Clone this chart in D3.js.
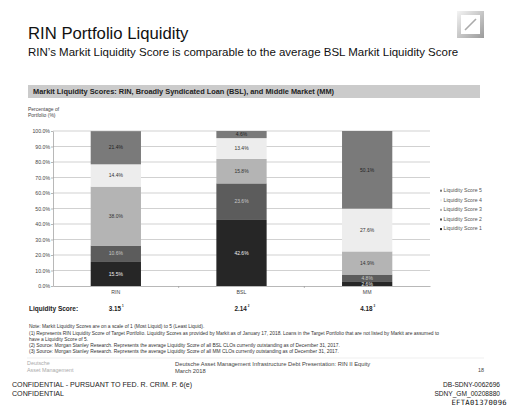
<!DOCTYPE html>
<html>
<head>
<meta charset="utf-8">
<script src="https://cdn.jsdelivr.net/npm/d3@7"></script>
<style>
  body { margin: 0; background: #fff; }
  svg { display: block; font-family: 'Liberation Sans', Arial, sans-serif; }
</style>
</head>
<body>
<div id="chart"></div>
<script>
const width = 512;
const height = 413;

// data
const categories = ['RIN', 'BSL', 'MM'];
const seriesNames = ['Liquidity Score 1', 'Liquidity Score 2', 'Liquidity Score 3', 'Liquidity Score 4', 'Liquidity Score 5'];
const score1 = [15.5, 42.6, 2.6];
const score2 = [10.6, 23.6, 4.8];
const score3 = [38.0, 15.8, 14.9];
const score4 = [14.4, 13.4, 27.6];
const score5 = [21.4, 4.6, 50.1];
const liquidityScores = ['3.15', '2.14', '4.18'];
const scoreNotes = ['1', '2', '3'];
const yTicks = [0, 10, 20, 30, 40, 50, 60, 70, 80, 90, 100];

const colors = ['#262626', '#5c5c5c', '#b4b4b4', '#ededed', '#7a7a7a'];
const labelColors = ['#f0f0f0', '#c8c8c8', '#333', '#333', '#222'];

const notes = [
  'Note: Markit Liquidity Scores are on a scale of 1 (Most Liquid) to 5 (Least Liquid).',
  '(1) Represents RIN Liquidity Score of Target Portfolio. Liquidity Scores as provided by Markit  as of January 17, 2018. Loans in the Target Portfolio that are not listed by Markit are assumed to',
  'have a Liquidity Score of 5.',
  '(2) Source: Morgan Stanley Research. Represents the average Liquidity Score of all BSL CLOs currently outstanding as of December 31, 2017.',
  '(3) Source: Morgan Stanley Research. Represents the average Liquidity Score of all MM CLOs currently outstanding as of December 31, 2017.',
];

const svg = d3
  .select('#chart')
  .append('svg')
  .attr('width', width)
  .attr('height', height);

// Titles
svg.append('text').text('RIN Portfolio Liquidity')
  .attr('x', 28).attr('y', 39).attr('font-size', 16.7).attr('fill', '#111');
svg.append('text').text('RIN\u2019s Markit Liquidity Score is comparable to the average BSL Markit Liquidity Score')
  .attr('x', 28).attr('y', 56).attr('font-size', 11.5).attr('fill', '#111');

// Logo
const grad = svg.append('defs').append('linearGradient')
  .attr('id', 'logo').attr('x1', 0).attr('y1', 0).attr('x2', 1).attr('y2', 1);
grad.append('stop').attr('offset', 0).attr('stop-color', '#f4f4f4');
grad.append('stop').attr('offset', 1).attr('stop-color', '#9a9a9a');
svg.append('rect').attr('x', 457).attr('y', 11).attr('width', 27).attr('height', 27)
  .attr('fill', 'url(#logo)');
svg.append('rect').attr('x', 461).attr('y', 15).attr('width', 19).attr('height', 19)
  .attr('fill', '#fff');
svg.append('line').attr('x1', 465).attr('y1', 30).attr('x2', 476).attr('y2', 19)
  .attr('stroke', '#aaa').attr('stroke-width', 1.6);

// Header bar
svg.append('rect').attr('x', 28).attr('y', 85).attr('width', 452).attr('height', 13)
  .attr('fill', '#cbcbcb');
svg.append('text').text('Markit Liquidity Scores:  RIN, Broadly Syndicated Loan (BSL), and Middle Market (MM)')
  .attr('x', 33).attr('y', 94.3).attr('font-size', 7.4).attr('font-weight', 'bold').attr('fill', '#222');

// Axis title
svg.append('text').attr('x', 28).attr('y', 111).attr('font-size', 5).attr('fill', '#444')
  .selectAll('tspan').data(['Percentage of', 'Portfolio (%)']).enter().append('tspan')
  .attr('x', 28).attr('dy', (d, i) => (i ? 6 : 0)).text((d) => d);

// Scales
const xScale = d3.scaleBand().domain(categories).range([53, 430])
  .paddingInner(0.6).paddingOuter(0.3);
const yScale = d3.scaleLinear().domain([0, 100]).range([286, 131]);

// Grid
svg.append('g').selectAll('line').data(yTicks.slice(1)).enter().append('line')
  .attr('x1', 53).attr('x2', 430)
  .attr('y1', (d) => yScale(d)).attr('y2', (d) => yScale(d))
  .attr('stroke', '#bdbdbd').attr('stroke-width', 0.7);

// Y axis
const yAxis = d3.axisLeft(yScale).tickValues(yTicks)
  .tickFormat((d) => d3.format('.1f')(d) + '%').tickSize(2).tickSizeOuter(0);
const yG = svg.append('g').attr('transform', 'translate(53,0)').call(yAxis);
yG.select('.domain').attr('stroke', '#999').attr('stroke-width', 0.7);
yG.selectAll('.tick line').attr('stroke', '#999').attr('stroke-width', 0.7);
yG.selectAll('text').attr('font-size', 5.2).attr('fill', '#444').attr('x', -3)
  .attr('font-family', 'Liberation Sans, Arial, sans-serif');

// X axis
const xAxis = d3.axisBottom(xScale).tickSize(0).tickSizeOuter(0);
const xG = svg.append('g').attr('transform', 'translate(0,286)').call(xAxis);
xG.select('.domain').attr('stroke', '#999').attr('stroke-width', 0.7);
xG.selectAll('text').attr('font-size', 5.2).attr('fill', '#444').attr('dy', '0.9em')
  .attr('font-family', 'Liberation Sans, Arial, sans-serif');
// small separators between categories
svg.append('g').selectAll('line').data(categories.slice(1)).enter().append('line')
  .attr('x1', (d) => xScale(d) - xScale.step() * xScale.paddingInner() / 2)
  .attr('x2', (d) => xScale(d) - xScale.step() * xScale.paddingInner() / 2)
  .attr('y1', 286).attr('y2', 288).attr('stroke', '#999').attr('stroke-width', 0.7);

// Stacked bars
const rows = categories.map((c, i) => ({
  cat: c, s0: score1[i], s1: score2[i], s2: score3[i], s3: score4[i], s4: score5[i],
}));
const stack = d3.stack().keys(['s0', 's1', 's2', 's3', 's4'])(rows);

const layers = svg.append('g').selectAll('g').data(stack).enter().append('g')
  .attr('fill', (d, i) => colors[i]);
layers.selectAll('rect').data((d) => d).enter().append('rect')
  .attr('x', (d) => xScale(d.data.cat))
  .attr('width', xScale.bandwidth())
  .attr('y', (d) => yScale(d[1]))
  .attr('height', (d) => yScale(d[0]) - yScale(d[1]));

// Segment labels
stack.forEach((layer, li) => {
  svg.append('g').selectAll('text').data(layer).enter().append('text')
    .attr('x', (d) => xScale(d.data.cat) + xScale.bandwidth() / 2)
    .attr('y', (d) => yScale((d[0] + d[1]) / 2) + 1.7)
    .attr('text-anchor', 'middle')
    .attr('font-size', 5)
    .attr('fill', labelColors[li])
    .text((d) => d3.format('.1f')(d[1] - d[0]) + '%');
});

// Legend
const legend = svg.append('g').attr('transform', 'translate(440,192)');
const legendItems = seriesNames.map((n, i) => ({ n, c: colors[i] })).reverse();
legendItems.forEach((d, i) => {
  legend.append('rect').attr('x', 0).attr('y', i * 9.6 - 2.3).attr('width', 2)
    .attr('height', 2).attr('fill', d.c);
  legend.append('text').attr('x', 3.5).attr('y', i * 9.6).attr('font-size', 5.2)
    .attr('fill', '#555').text(d.n);
});

// Liquidity score row
svg.append('text').text('Liquidity Score:').attr('x', 29).attr('y', 310.5)
  .attr('font-size', 6.5).attr('font-weight', 'bold').attr('fill', '#222');
categories.forEach((c, i) => {
  const t = svg.append('text').attr('x', xScale(c) + xScale.bandwidth() / 2 - 7).attr('y', 310.5)
    .attr('font-size', 6.3).attr('font-weight', 'bold').attr('fill', '#222');
  t.append('tspan').text(liquidityScores[i]);
  t.append('tspan').text(scoreNotes[i]).attr('font-size', 3).attr('dy', -3.5).attr('dx', 1);
});

// Notes
svg.append('g').selectAll('text').data(notes).enter().append('text')
  .attr('x', 29).attr('y', (d, i) => 328.3 + i * 6.2)
  .attr('font-size', 4.9).attr('fill', '#333').text((d) => d);

// Footer
svg.append('line').attr('x1', 27).attr('x2', 484).attr('y1', 358).attr('y2', 358)
  .attr('stroke', '#e4e4e4').attr('stroke-width', 0.6);
svg.append('text').text('Deutsche').attr('x', 27).attr('y', 365)
  .attr('font-size', 5.4).attr('fill', '#aaa');
svg.append('text').text('Asset Management').attr('x', 27).attr('y', 372)
  .attr('font-size', 5.4).attr('fill', '#aaa');
svg.append('text').text('Deutsche Asset Management Infrastructure Debt Presentation: RIN II Equity')
  .attr('x', 175).attr('y', 366).attr('font-size', 5.8).attr('fill', '#444');
svg.append('text').text('March 2018').attr('x', 175).attr('y', 373)
  .attr('font-size', 5.8).attr('fill', '#444');
svg.append('text').text('18').attr('x', 484).attr('y', 372).attr('text-anchor', 'end')
  .attr('font-size', 5.4).attr('fill', '#444');

svg.append('text').text('CONFIDENTIAL - PURSUANT TO FED. R. CRIM. P. 6(e)')
  .attr('x', 12).attr('y', 387).attr('font-size', 7.1).attr('fill', '#222');
svg.append('text').text('CONFIDENTIAL')
  .attr('x', 12).attr('y', 395.5).attr('font-size', 7.1).attr('fill', '#222');
svg.append('text').text('DB-SDNY-0062696').attr('x', 500).attr('y', 387)
  .attr('text-anchor', 'end').attr('font-size', 6.6).attr('fill', '#222');
svg.append('text').text('SDNY_GM_00208880').attr('x', 500).attr('y', 395.5)
  .attr('text-anchor', 'end').attr('font-size', 6.6).attr('fill', '#222');
svg.append('text').text('EFTA01370096').attr('x', 507).attr('y', 405)
  .attr('text-anchor', 'end').attr('font-size', 7.2).attr('fill', '#111')
  .attr('font-family', 'DejaVu Sans Mono, monospace').attr('letter-spacing', 0.3);
</script>
</body>
</html>
